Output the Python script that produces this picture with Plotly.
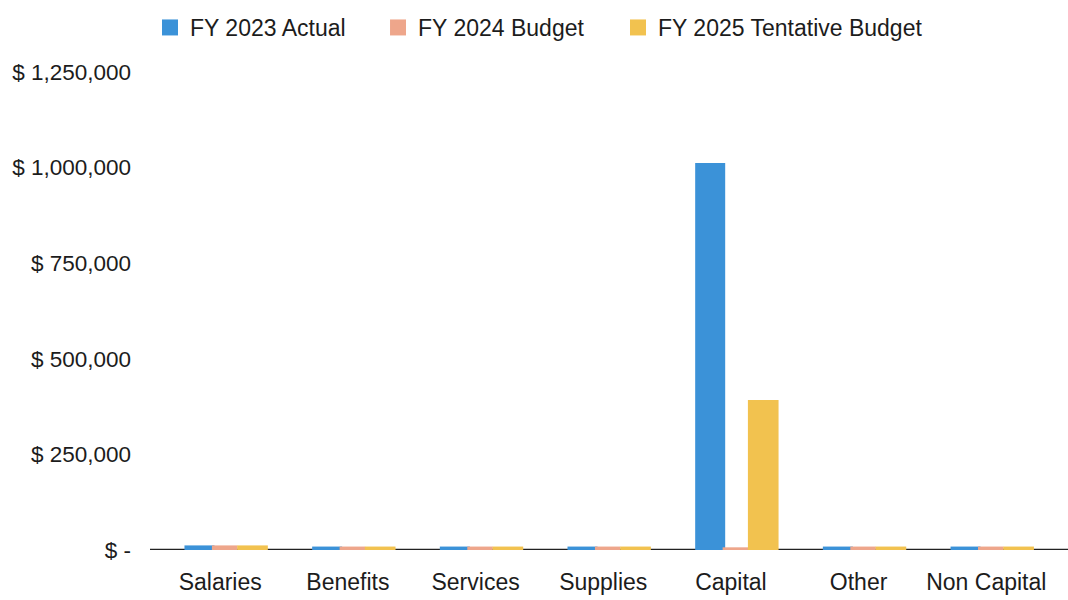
import plotly.graph_objects as go

categories = ["Salaries", "Benefits", "Services", "Supplies", "Capital", "Other", "Non Capital"]
fy2023_actual = [12000, 9000, 9000, 9000, 1012000, 9000, 9000]
fy2024_budget = [12000, 9000, 9000, 9000, 7000, 9000, 9000]
fy2025_tentative = [12000, 9000, 9000, 9000, 392000, 9000, 9000]

series_names = ["FY 2023 Actual", "FY 2024 Budget", "FY 2025 Tentative Budget"]
series_values = [fy2023_actual, fy2024_budget, fy2025_tentative]
colors = ["#3b92d8", "#eea68b", "#f2c24f"]
bar_offsets = [-0.28, -0.065, 0.133]
bar_widths = [0.235, 0.2, 0.24]
legend_ids = ["legend", "legend2", "legend3"]
legend_x = [0.0, 0.2484, 0.5098]

y_tickvals = [0, 250000, 500000, 750000, 1000000, 1250000]
y_ticktext = ["$ -", "$ 250,000", "$ 500,000", "$ 750,000", "$ 1,000,000", "$ 1,250,000"]

FONT = "Liberation Sans, Arial, sans-serif"
TXT = "#1c1c1c"

fig = go.Figure()
for name, vals, c, off, w in zip(series_names, series_values, colors, bar_offsets, bar_widths):
    fig.add_trace(go.Bar(x=categories, y=vals, name=name, offset=off, width=w,
                         marker=dict(color=c, line=dict(width=0)), showlegend=False))
for name, c, lid in zip(series_names, colors, legend_ids):
    fig.add_trace(go.Scatter(x=[None], y=[None], mode="markers", name=name, legend=lid,
                             marker=dict(symbol="square", size=20, color=c)))

fig.add_shape(type="line", xref="paper", yref="y", x0=0, x1=1, y0=0, y1=0,
              line=dict(color="#222222", width=2.5), layer="below")

legend_common = dict(orientation="h", xanchor="left", yref="container", y=0.99, yanchor="top",
                     font=dict(size=23, family=FONT, color=TXT), bgcolor="rgba(0,0,0,0)")

fig.update_layout(
    width=1068, height=600,
    margin=dict(l=150, r=0, t=72, b=50),
    paper_bgcolor="white", plot_bgcolor="white",
    barmode="overlay",
    font=dict(family=FONT, color=TXT, size=21),
    legend=dict(x=legend_x[0], **legend_common),
    legend2=dict(x=legend_x[1], **legend_common),
    legend3=dict(x=legend_x[2], **legend_common),
    xaxis=dict(range=[-0.55, 6.64], showgrid=False, zeroline=False, showline=False,
               ticks="", tickfont=dict(size=23), ticklabelstandoff=16),
    yaxis=dict(range=[0, 1250000], tickvals=y_tickvals, ticktext=y_ticktext, showgrid=False,
               zeroline=False, showline=False, ticks="", tickfont=dict(size=22.5),
               ticklabelstandoff=18),
)

fig.write_html("out.html")
